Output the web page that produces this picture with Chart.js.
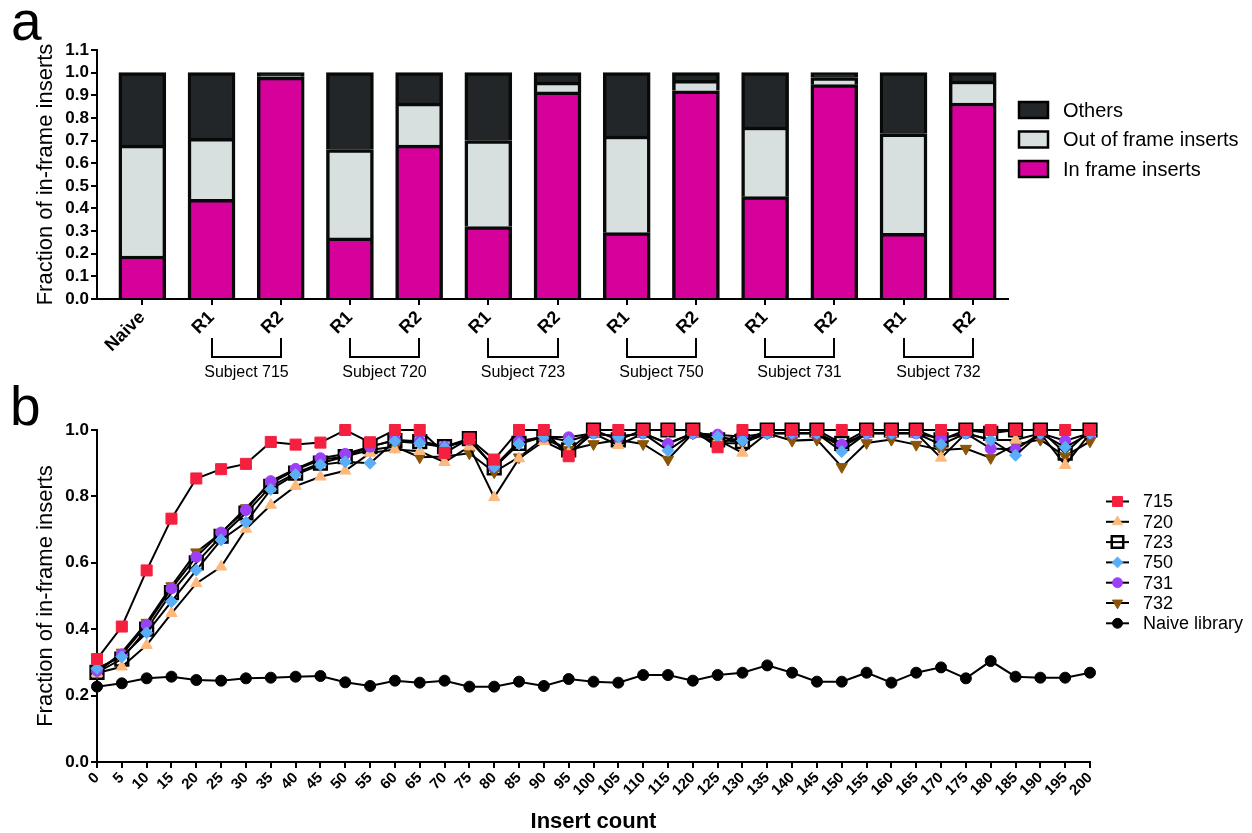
<!DOCTYPE html>
<html>
<head>
<meta charset="utf-8">
<script src="https://cdn.jsdelivr.net/npm/chart.js@4.4.0/dist/chart.umd.min.js"></script>
<style>
  body { margin: 0; background: #fff; width: 1252px; height: 833px; position: relative; overflow: hidden;
         font-family: "Liberation Sans", Arial, sans-serif; }
  .panel-letter { position: absolute; font-size: 55px; line-height: 1; color: #000; }
  #wrap-a { position: absolute; left: 0; top: 0; width: 1252px; height: 390px; }
  #wrap-b { position: absolute; left: 0; top: 390px; width: 1252px; height: 443px; }
</style>
</head>
<body>
<div class="panel-letter" style="left:11px; top:-6px;">a</div>
<div class="panel-letter" style="left:10px; top:379px;">b</div>
<div id="wrap-a"><canvas id="chart-a" width="1252" height="390"></canvas></div>
<div id="wrap-b"><canvas id="chart-b" width="1252" height="443"></canvas></div>

<script>
const FONT = '"Liberation Sans", Arial, sans-serif';
Chart.defaults.font.family = FONT;
Chart.defaults.color = '#000';

// ---- Panel a data ----
const categories = ['Naive', 'R1', 'R2', 'R1', 'R2', 'R1', 'R2', 'R1', 'R2', 'R1', 'R2', 'R1', 'R2'];
const subjects = ['Subject 715', 'Subject 720', 'Subject 723', 'Subject 750', 'Subject 731', 'Subject 732'];
const inFrame    = [0.19, 0.44, 0.98,  0.27, 0.68,  0.32, 0.915, 0.293, 0.92,  0.452, 0.947, 0.29, 0.866];
const outOfFrame = [0.49, 0.27, 0.003, 0.39, 0.185, 0.38, 0.043, 0.427, 0.046, 0.308, 0.031, 0.44, 0.097];
const others     = [0.32, 0.29, 0.017, 0.34, 0.135, 0.30, 0.042, 0.28,  0.034, 0.24,  0.022, 0.27, 0.037];
const yTicksA = [0, 0.1, 0.2, 0.3, 0.4, 0.5, 0.6, 0.7, 0.8, 0.9, 1.0, 1.1];

// ---- Panel b data ----
const insertCounts = [0, 5, 10, 15, 20, 25, 30, 35, 40, 45, 50, 55, 60, 65, 70, 75, 80, 85, 90, 95, 100,
  105, 110, 115, 120, 125, 130, 135, 140, 145, 150, 155, 160, 165, 170, 175, 180, 185, 190, 195, 200];
const s715 = [0.31, 0.408, 0.577, 0.733, 0.854, 0.882, 0.898, 0.964, 0.956, 0.962, 1.0, 0.963, 1.0, 1.0, 0.931,
  0.974, 0.911, 1.0, 1.0, 0.921, 1.0, 1.0, 1.0, 1.0, 1.0, 0.948, 1.0, 1.0, 1.0, 1.0, 1.0,
  1.0, 1.0, 1.0, 1.0, 1.0, 1.0, 1.0, 1.0, 1.0, 1.0];
const s720 = [0.268, 0.287, 0.352, 0.448, 0.538, 0.588, 0.702, 0.774, 0.831, 0.859, 0.877, 0.931, 0.941, 0.936, 0.903,
  0.95, 0.797, 0.914, 0.966, 0.93, 0.99, 0.954, 0.99, 0.96, 0.99, 0.97, 0.931, 0.99, 0.99, 0.99, 0.95,
  0.99, 0.99, 0.99, 0.916, 0.99, 0.97, 0.97, 0.99, 0.894, 0.99];
const s723 = [0.27, 0.31, 0.40, 0.51, 0.60, 0.68, 0.75, 0.83, 0.87, 0.90, 0.92, 0.95, 0.968, 0.965, 0.95,
  0.974, 0.886, 0.96, 0.98, 0.94, 1.0, 0.97, 1.0, 1.0, 1.0, 0.97, 0.965, 1.0, 1.0, 1.0, 0.96,
  1.0, 1.0, 1.0, 0.97, 1.0, 0.99, 1.0, 1.0, 0.93, 1.0];
const s750 = [0.282, 0.317, 0.389, 0.483, 0.578, 0.669, 0.722, 0.821, 0.866, 0.895, 0.904, 0.90, 0.966, 0.96, 0.948,
  0.97, 0.889, 0.958, 0.98, 0.966, 0.99, 0.98, 0.99, 0.938, 0.99, 0.98, 0.968, 0.99, 0.99, 0.99, 0.935,
  0.99, 0.99, 0.99, 0.956, 0.99, 0.97, 0.924, 0.99, 0.948, 0.99];
const s731 = [0.275, 0.324, 0.413, 0.523, 0.618, 0.691, 0.759, 0.846, 0.883, 0.915, 0.928, 0.95, 0.97, 0.966, 0.95,
  0.97, 0.89, 0.966, 0.98, 0.978, 0.99, 0.98, 0.99, 0.958, 0.99, 0.986, 0.98, 0.99, 0.99, 0.99, 0.956,
  0.99, 0.99, 0.99, 0.974, 0.99, 0.944, 0.941, 0.99, 0.968, 0.99];
const s732 = [0.27, 0.33, 0.42, 0.53, 0.632, 0.69, 0.765, 0.84, 0.88, 0.91, 0.92, 0.94, 0.95, 0.918, 0.92,
  0.93, 0.873, 0.918, 0.975, 0.94, 0.958, 0.97, 0.958, 0.911, 0.99, 0.96, 0.96, 0.99, 0.968, 0.971, 0.889,
  0.961, 0.971, 0.956, 0.94, 0.944, 0.916, 0.956, 0.971, 0.921, 0.966];
const naiveLib = [0.227, 0.237, 0.252, 0.257, 0.247, 0.245, 0.252, 0.254, 0.257, 0.259, 0.240, 0.229, 0.245, 0.239, 0.245,
  0.227, 0.227, 0.242, 0.229, 0.250, 0.242, 0.239, 0.262, 0.262, 0.245, 0.262, 0.269, 0.291, 0.269, 0.242, 0.242,
  0.269, 0.239, 0.269, 0.285, 0.252, 0.304, 0.257, 0.254, 0.254, 0.269];
const yTicksB = [0, 0.2, 0.4, 0.6, 0.8, 1.0];

// shared axis look
const axisGrid = { display: true, drawOnChartArea: false, offset: false, color: '#000', lineWidth: 2, tickLength: 6 };
const axisBorder = { display: true, color: '#000', width: 2 };

// ---- Panel a ----
// brackets under the R1/R2 pairs + legend boxes on the right
const panelAExtras = {
  id: 'panelAExtras',
  afterDraw(chart) {
    const ctx = chart.ctx;
    const xs = chart.scales.x;
    ctx.save();
    ctx.strokeStyle = '#000';
    ctx.lineWidth = 2;
    ctx.fillStyle = '#000';
    ctx.font = '16px ' + FONT;
    ctx.textAlign = 'center';
    ctx.textBaseline = 'middle';
    subjects.forEach((name, k) => {
      const x1 = Math.round(xs.getPixelForValue(1 + 2 * k));
      const x2 = Math.round(xs.getPixelForValue(2 + 2 * k));
      ctx.beginPath();
      ctx.moveTo(x1, 338);
      ctx.lineTo(x1, 357);
      ctx.lineTo(x2, 357);
      ctx.lineTo(x2, 338);
      ctx.stroke();
      ctx.fillText(name, (x1 + x2) / 2, 373);
    });

    // legend: top item is the top of the stack
    const items = chart.data.datasets.slice().reverse();
    ctx.font = '20px ' + FONT;
    ctx.textAlign = 'left';
    items.forEach((ds, i) => {
      const cy = 110 + i * 29.5;
      ctx.fillStyle = ds.backgroundColor;
      ctx.fillRect(1019, cy - 8, 29, 16);
      ctx.lineWidth = 2.5;
      ctx.strokeRect(1019, cy - 8, 29, 16);
      ctx.fillStyle = '#000';
      ctx.fillText(ds.label, 1063, cy + 1);
    });
    ctx.restore();
  }
};

function barSet(label, values, color) {
  return {
    label: label,
    data: values.map((v, i) => ({ x: i, y: v })),
    backgroundColor: color,
    borderColor: '#080a0a',
    borderWidth: 3.5,
    barThickness: 47
  };
}

new Chart(document.getElementById('chart-a'), {
  type: 'bar',
  data: {
    datasets: [
      barSet('In frame inserts', inFrame, '#d6009a'),
      barSet('Out of frame inserts', outOfFrame, '#d8e0df'),
      barSet('Others', others, '#222628')
    ]
  },
  options: {
    responsive: false,
    animation: false,
    layout: { padding: { top: 50, right: 244, bottom: 0, left: 0 } },
    plugins: { legend: { display: false }, tooltip: { enabled: false } },
    scales: {
      x: {
        type: 'linear',
        stacked: true,
        offset: false,
        min: -0.655,
        max: 12.51,
        afterBuildTicks: s => { s.ticks = categories.map((c, i) => ({ value: i })); },
        afterFit: s => { s.height = 91; },
        grid: axisGrid,
        border: axisBorder,
        ticks: {
          autoSkip: false, minRotation: 45, maxRotation: 45, padding: 2, color: '#000',
          font: { size: 18, weight: 'bold' },
          callback: v => categories[v]
        }
      },
      y: {
        stacked: true,
        min: 0,
        max: 1.1,
        afterBuildTicks: s => { s.ticks = yTicksA.map(v => ({ value: v })); },
        afterFit: s => { s.width = 97; },
        grid: axisGrid,
        border: axisBorder,
        ticks: { autoSkip: false, padding: 2, color: '#000', font: { size: 17, weight: 'bold' }, callback: v => v.toFixed(1) },
        title: {
          display: true, text: 'Fraction of in-frame inserts', color: '#000',
          font: { size: 22, lineHeight: 1 }, padding: { top: 35, bottom: 0 }
        }
      }
    }
  },
  plugins: [panelAExtras]
});

// ---- Panel b ----
const legendB = {
  id: 'legendB',
  afterDraw(chart) {
    const ctx = chart.ctx;
    ctx.save();
    ctx.font = '18px ' + FONT;
    ctx.textAlign = 'left';
    ctx.textBaseline = 'middle';
    chart.data.datasets.forEach((ds, i) => {
      const cy = 111.5 + i * 20.3;
      ctx.strokeStyle = '#000';
      ctx.lineWidth = 2;
      ctx.beginPath();
      ctx.moveTo(1106, cy);
      ctx.lineTo(1129, cy);
      ctx.stroke();
      ctx.fillStyle = ds.pointBackgroundColor;
      ctx.strokeStyle = ds.pointBorderColor;
      ctx.lineWidth = ds.pointBorderWidth;
      Chart.helpers.drawPoint(ctx, {
        pointStyle: ds.pointStyle,
        rotation: ds.pointRotation || 0,
        radius: ds.pointRadius * 0.9,
        borderWidth: ds.pointBorderWidth
      }, 1117.5, cy);
      ctx.fillStyle = '#000';
      ctx.fillText(ds.label, 1143, cy + 1);
    });
    ctx.restore();
  }
};

function lineSet(label, values, opts) {
  return Object.assign({
    label: label,
    data: values.map((v, i) => ({ x: insertCounts[i], y: v })),
    borderColor: '#000',
    borderWidth: 2,
    pointBorderWidth: 1,
    clip: false,
    tension: 0
  }, opts);
}

new Chart(document.getElementById('chart-b'), {
  type: 'line',
  data: {
    datasets: [
      lineSet('715', s715, { pointStyle: 'rect', pointRadius: 7.8, pointBackgroundColor: '#f5203f', pointBorderColor: '#f5203f', order: 0 }),
      lineSet('720', s720, { pointStyle: 'triangle', pointRadius: 6.5, pointBackgroundColor: '#fdb97d', pointBorderColor: '#fdb97d', order: 3 }),
      lineSet('723', s723, { pointStyle: 'rect', pointRadius: 9, pointBackgroundColor: 'rgba(255,255,255,0)', pointBorderColor: '#000', pointBorderWidth: 2.5, order: 5 }),
      lineSet('750', s750, { pointStyle: 'rectRot', pointRadius: 6, pointBackgroundColor: '#5aaef7', pointBorderColor: '#5aaef7', order: 1 }),
      lineSet('731', s731, { pointStyle: 'circle', pointRadius: 5.5, pointBackgroundColor: '#9b40f5', pointBorderColor: '#9b40f5', order: 2 }),
      lineSet('732', s732, { pointStyle: 'triangle', pointRotation: 180, pointRadius: 6.5, pointBackgroundColor: '#8a5506', pointBorderColor: '#8a5506', order: 4 }),
      lineSet('Naive library', naiveLib, { pointStyle: 'circle', pointRadius: 5.5, pointBackgroundColor: '#000', pointBorderColor: '#000', order: 0 })
    ]
  },
  options: {
    responsive: false,
    animation: false,
    layout: { padding: { top: 40, right: 162, bottom: 0, left: 0 } },
    plugins: { legend: { display: false }, tooltip: { enabled: false } },
    scales: {
      x: {
        type: 'linear',
        min: 0,
        max: 200,
        afterBuildTicks: s => { s.ticks = insertCounts.map(v => ({ value: v })); },
        afterFit: s => { s.height = 71; },
        grid: axisGrid,
        border: axisBorder,
        ticks: { autoSkip: false, minRotation: 45, maxRotation: 45, padding: 1, color: '#000', font: { size: 15, weight: 'bold' } },
        title: {
          display: true, text: 'Insert count', color: '#000',
          font: { size: 22, weight: 'bold', lineHeight: 1 }, padding: { top: 0, bottom: 0 }
        }
      },
      y: {
        min: 0,
        max: 1.0,
        afterBuildTicks: s => { s.ticks = yTicksB.map(v => ({ value: v })); },
        afterFit: s => { s.width = 97; },
        grid: axisGrid,
        border: axisBorder,
        ticks: { autoSkip: false, padding: 2, color: '#000', font: { size: 17, weight: 'bold' }, callback: v => v.toFixed(1) },
        title: {
          display: true, text: 'Fraction of in-frame inserts', color: '#000',
          font: { size: 22, lineHeight: 1 }, padding: { top: 35, bottom: 0 }
        }
      }
    }
  },
  plugins: [legendB]
});
</script>
</body>
</html>
